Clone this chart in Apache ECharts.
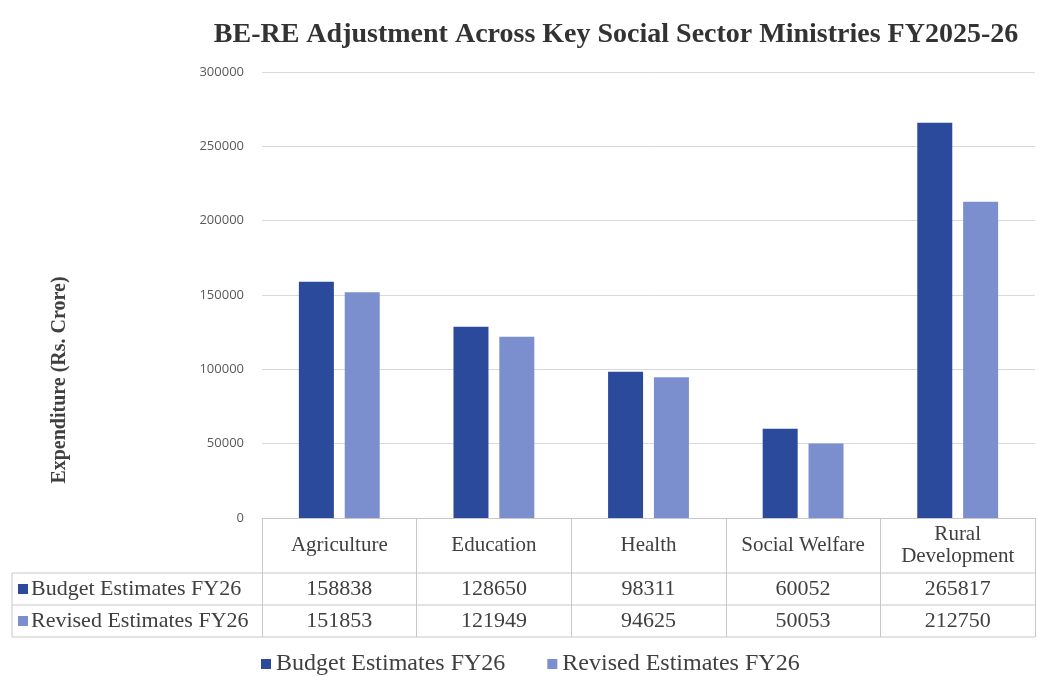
<!DOCTYPE html>
<html>
<head>
<meta charset="utf-8">
<script src="https://cdn.jsdelivr.net/npm/echarts@6/dist/echarts.min.js"></script>
<style>
  html, body { margin: 0; padding: 0; background: #fff; }
  #main { width: 1039px; height: 677px; }
</style>
</head>
<body>
<div id="main"></div>
<script>
const categories = ['Agriculture', 'Education', 'Health', 'Social Welfare', 'Rural\nDevelopment']
const budgetFY26 = [158838, 128650, 98311, 60052, 265817]
const revisedFY26 = [151853, 121949, 94625, 50053, 212750]
const seriesNames = ['Budget Estimates FY26', 'Revised Estimates FY26']
const colors = ['#2b4a9c', '#7b8fcf']

const serif = '"Liberation Serif", "DejaVu Serif", serif'
const gridLeft = 262, gridRight = 4, gridTop = 72, gridBottom = 159
const axisY = 677 - gridBottom
const tableLine = '#c8c8c8'

let chart = echarts.init(document.getElementById('main'))

// value rows of the data table, drawn as extra category axes
function rowAxis(values, margin) {
  return {
    type: 'category',
    data: categories,
    position: 'bottom',
    axisLine: {show: false},
    axisTick: {show: false},
    axisLabel: {
      interval: 0,
      margin: margin,
      verticalAlign: 'middle',
      fontFamily: serif,
      fontSize: 22,
      color: '#404040',
      formatter: (v, i) => String(values[i])
    }
  }
}

let option = {
  animation: false,
  color: colors,
  title: {
    text: 'BE-RE Adjustment Across Key Social Sector Ministries FY2025-26',
    left: 611,
    textAlign: 'center',
    top: 16,
    textStyle: {fontFamily: serif, fontSize: 28, fontWeight: 'bold', color: '#333'}
  },
  legend: {
    top: 647,
    left: 256,
    itemWidth: 10,
    itemHeight: 10,
    itemGap: 42,
    icon: 'rect',
    textStyle: {fontFamily: serif, fontSize: 24, color: '#404040'},
    data: seriesNames
  },
  grid: {left: gridLeft, right: gridRight, top: gridTop, bottom: gridBottom},
  xAxis: [
    {
      type: 'category',
      data: categories,
      axisLine: {lineStyle: {color: tableLine}},
      axisTick: {show: true, length: 119, lineStyle: {color: tableLine}},
      axisLabel: {
        interval: 0,
        margin: 27,
        verticalAlign: 'middle',
        fontFamily: serif,
        fontSize: 21,
        lineHeight: 22,
        color: '#404040'
      }
    },
    rowAxis(budgetFY26, 71),
    rowAxis(revisedFY26, 103)
  ],
  yAxis: {
    type: 'value',
    min: 0,
    max: 300000,
    interval: 50000,
    axisLabel: {
      margin: 18,
      fontFamily: '"Open Sans", sans-serif',
      fontSize: 13,
      color: '#595959',
      formatter: v => String(v)
    },
    splitLine: {lineStyle: {color: '#d9d9d9'}}
  },
  graphic: [
    // y axis title, placed as in the reference (below the plot centre)
    {type: 'text', x: 60, y: 380, rotation: Math.PI / 2,
      style: {text: 'Expenditure (Rs. Crore)', font: 'bold 20px ' + serif, fill: '#404040', align: 'center', verticalAlign: 'middle'}},
    // horizontal table lines reaching to the row headers
    {type: 'line', shape: {x1: 12, y1: axisY + 55, x2: 1035, y2: axisY + 55}, style: {stroke: tableLine}},
    {type: 'line', shape: {x1: 12, y1: axisY + 87, x2: 1035, y2: axisY + 87}, style: {stroke: tableLine}},
    {type: 'line', shape: {x1: 12, y1: axisY + 119, x2: 1035, y2: axisY + 119}, style: {stroke: tableLine}},
    {type: 'line', shape: {x1: 12, y1: axisY + 55, x2: 12, y2: axisY + 119}, style: {stroke: tableLine}},
    {type: 'rect', shape: {x: 18, y: axisY + 66, width: 10, height: 10}, style: {fill: colors[0]}},
    {type: 'rect', shape: {x: 18, y: axisY + 98, width: 10, height: 10}, style: {fill: colors[1]}},
    {type: 'text', x: 31, y: axisY + 71, style: {text: seriesNames[0], font: '22px ' + serif, fill: '#404040', verticalAlign: 'middle'}},
    {type: 'text', x: 31, y: axisY + 103, style: {text: seriesNames[1], font: '22px ' + serif, fill: '#404040', verticalAlign: 'middle'}}
  ],
  series: [
    {name: seriesNames[0], type: 'bar', data: budgetFY26, barWidth: 35, barGap: '31%'},
    {name: seriesNames[1], type: 'bar', data: revisedFY26, barWidth: 35, barGap: '31%'}
  ]
}

chart.setOption(option)
</script>
</body>
</html>
